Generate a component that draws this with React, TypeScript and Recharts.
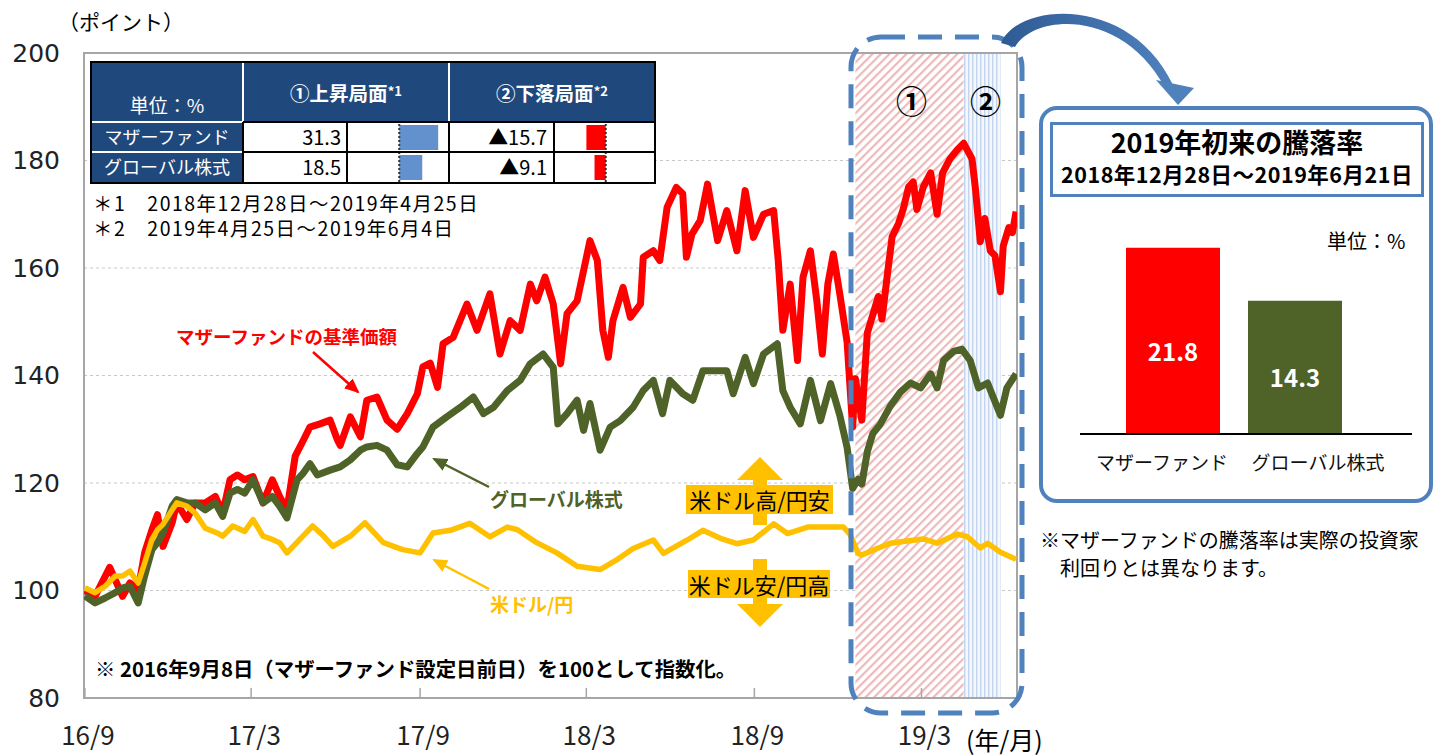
import React from "react";
import {
  LineChart,
  Line,
  XAxis,
  YAxis,
  CartesianGrid,
  ReferenceArea,
  ReferenceLine,
  BarChart,
  Bar,
  Cell,
  LabelList,
} from "recharts";

const JP = '"Noto Sans CJK JP", "Noto Sans", sans-serif';
const RED = "#ff0000";
const OLIVE = "#4f6228";
const GOLD = "#ffc000";
const NAVY = "#1f497d";
const BLUE = "#4f81bd";

// days elapsed since 2016-09-08 (= 100)
const fundDays = [
  1, 12, 28, 34, 42, 50, 59, 66, 74, 80, 86, 96, 101, 112, 121, 132, 143, 151, 159, 167,
  175, 184, 195, 205, 213, 221, 230, 239, 246, 257, 268, 276, 279, 290, 301, 308, 319, 330, 341, 352,
  363, 369, 377, 385, 391, 402, 417, 428, 442, 453, 464, 475, 486, 493, 502, 511, 519, 526, 537, 544,
  551, 559, 565, 571, 576, 587, 595, 606, 609, 620, 627, 635, 645, 652, 656, 662, 671, 679, 690, 700,
  711, 720, 729, 740, 751, 756, 761, 769, 777, 783, 791, 798, 804, 810, 816, 823, 831, 837, 840, 847,
  853, 859, 865, 869, 875, 880, 887, 892, 898, 903, 907, 914, 922, 929, 935, 943, 951, 958, 967, 971,
  976, 981, 987, 992, 998, 1001, 1007, 1011, 1015,
];
const fundValues = [
  100, 98.9, 104.3, 102, 98.9, 101.4, 100.2, 107, 111.3, 114.1, 108.2, 112.6, 116.3, 113.2, 116.3, 116.3, 117.5, 114.4, 120.6, 121.5,
  120.6, 121.2, 116.3, 120.6, 117.5, 115, 125, 128, 130.4, 131, 131.7, 128, 127, 132.3, 128.6, 135.4, 136, 131.7, 130, 132.9,
  136.6, 141.6, 142.3, 137.8, 145.9, 147.1, 153.3, 148.4, 155.2, 144, 150.2, 148.4, 157, 153.9, 158.3, 153.3, 142.2, 151.5, 153.9, 159.5,
  165.1, 161.4, 148.4, 143.4, 150.2, 156.4, 150.8, 153.3, 162, 163.2, 161.4, 171.3, 175, 173.8, 162, 166.3, 168.8, 175.6, 165.1, 170.7,
  163.2, 174.4, 165.7, 170, 170.7, 161.4, 148.4, 157, 142.8, 158.3, 163.2, 153.9, 144, 157, 162.6, 155.2, 146.2, 130.4, 139.4, 131.7,
  147.9, 151.3, 154.7, 150.5, 159, 165.8, 168.3, 170.9, 175.1, 176, 170.9, 175.1, 177.7, 170, 177.7, 180.3, 182, 183.2, 180.3, 174.3,
  164.9, 169.2, 163.2, 162.3, 155.6, 164.1, 167.5, 166.6, 170.5,
];

const globalDays = [
  1, 12, 23, 34, 42, 50, 59, 66, 74, 80, 86, 96, 101, 112, 121, 132, 143, 151, 159, 167,
  175, 184, 195, 205, 213, 221, 232, 239, 246, 254, 268, 279, 290, 301, 308, 319, 330, 341, 352, 363,
  369, 380, 395, 410, 424, 435, 446, 461, 475, 486, 500, 511, 516, 526, 537, 544, 551, 562, 573, 584,
  598, 609, 620, 630, 638, 652, 663, 674, 690, 700, 707, 720, 729, 740, 755, 761, 769, 780, 791, 802,
  813, 823, 831, 837, 843, 847, 853, 859, 867, 878, 889, 900, 911, 922, 929, 936, 947, 956, 965, 974,
  984, 990, 998, 1005, 1015,
];
const globalValues = [
  99, 97.7, 98.6, 99.6, 100.5, 100.8, 97.7, 102.7, 107.6, 108.9, 110.7, 115.7, 116.9, 116.3, 116.3, 115, 116.3, 113.8, 118.1, 118.8,
  118.1, 120.6, 116.3, 117.5, 115.7, 113.5, 120.6, 121.9, 123.6, 121.5, 122.4, 123, 124.3, 126.1, 126.7, 127, 126.1, 123.4, 123, 125.5,
  126.7, 130.4, 132.3, 134.1, 136, 132.9, 134.1, 137.2, 139.1, 142.2, 144, 141.5, 131, 132.9, 135.4, 129.8, 134.8, 126.1, 130.4, 131.6,
  134.1, 137.2, 139.1, 132.9, 139.1, 136.6, 135.4, 140.9, 140.9, 140.9, 136.6, 143.4, 138.5, 144, 145.9, 137.2, 134.1, 131, 139.1, 131.6,
  138.5, 132.6, 126.6, 119, 120.7, 119.8, 125.8, 129.2, 130.9, 134.3, 136.9, 138.6, 137.7, 140.3, 137.7, 142.8, 144.5, 144.9, 142.8, 137.7,
  138.6, 136, 132.6, 137.7, 140.3,
];

const usdDays = [
  1, 12, 23, 34, 42, 50, 59, 66, 74, 80, 86, 96, 101, 112, 121, 132, 145, 151, 162, 175,
  184, 195, 205, 213, 221, 235, 249, 260, 271, 290, 306, 326, 347, 366, 380, 399, 420, 442, 461, 472,
  493, 515, 537, 562, 581, 598, 620, 631, 657, 674, 693, 711, 729, 751, 766, 788, 809, 827, 834, 843,
  847, 859, 878, 896, 914, 929, 951, 962, 976, 984, 998, 1015,
];
const usdValues = [
  100.5, 99.6, 100.8, 102.7, 102.7, 103.6, 101.4, 105.1, 109.5, 111.3, 112.3, 115, 116.3, 115.7, 114.4, 111.6, 110.7, 110.1, 112, 111,
  113.2, 110.1, 109.5, 108.9, 107, 109.5, 112, 110.3, 108.2, 110.1, 112.6, 108.9, 107.6, 107, 110.7, 111.2, 112.5, 110, 111.8, 111.3,
  108.9, 107, 104.5, 103.9, 105.8, 107.8, 109.4, 106.9, 109.4, 111.2, 109.7, 108.7, 109.4, 112.4, 110.6, 111.8, 111.8, 111.8, 110.5, 106.9,
  106.6, 107.5, 108.8, 109.2, 109.6, 108.8, 110.5, 110, 107.9, 108.8, 107.1, 105.8,
];

const xTickDays = [1, 182, 366, 547, 730, 912];
const xTickLabels = ["16/9", "17/3", "17/9", "18/3", "18/9", "19/3"];
const yTicks = [80, 100, 120, 140, 160, 180, 200];

// ① rise phase, ② fall phase (days)
const phase1 = [840, 958];
const phase2 = [958, 998];

const tableRows = ["マザーファンド", "グローバル株式"];
const riseValues = [31.3, 18.5];
const fallValues = [-15.7, -9.1];
const footnotes = ["＊1　2018年12月28日～2019年4月25日", "＊2　2019年4月25日～2019年6月4日"];

const ytdNames = ["マザーファンド", "グローバル株式"];
const ytdValues = [21.8, 14.3];
const ytdColors = [RED, OLIVE];

const fundData = fundDays.map((d, i) => ({ day: d, v: fundValues[i] }));
const globalData = globalDays.map((d, i) => ({ day: d, v: globalValues[i] }));
const usdData = usdDays.map((d, i) => ({ day: d, v: usdValues[i] }));
const riseData = tableRows.map((n, i) => ({ name: n, value: riseValues[i] }));
const fallData = tableRows.map((n, i) => ({ name: n, value: fallValues[i] }));
const ytdData = ytdNames.map((n, i) => ({ name: n, value: ytdValues[i] }));

const PANEL_AXIS_MIN = -4.5;
const ytdLabelShift = [-11, 23];

function XTick(props: any) {
  const { x, y, payload } = props;
  const i = xTickDays.indexOf(payload.value);
  return (
    <g>
      <line x1={x} y1={y} x2={x} y2={y - 10} stroke="#a6a6a6" strokeWidth={1.5} />
      <text x={x + 3} y={y + 47} textAnchor="middle" fill="#222" fontSize={26} fontFamily={JP}>
        {xTickLabels[i]}
      </text>
    </g>
  );
}

function PanelTick(props: any) {
  const { x, y, payload, index } = props;
  return (
    <text x={x + ytdLabelShift[index]} y={y + 36} textAnchor="middle" fill="#111" fontSize={19} fontFamily={JP}>
      {payload.value}
    </text>
  );
}

const ytdLabel = (p: any) => {
  const { x, y, width, height, value } = p;
  return (
    <text x={x + width / 2} y={y + height / 2 + 20} textAnchor="middle" fill="#fff" fontSize={24} fontWeight={700} fontFamily={JP}>
      {value}
    </text>
  );
};

const box = (x: number, y: number, w: number, h: number, extra: React.CSSProperties = {}): React.CSSProperties => ({
  position: "absolute",
  left: x,
  top: y,
  width: w,
  height: h,
  boxSizing: "border-box",
  ...extra,
});

function Txt({ x, y, size, children, style }: any) {
  return (
    <div style={{ position: "absolute", left: x, top: y - size * 0.55, fontSize: size, lineHeight: 1.1, whiteSpace: "nowrap", fontFamily: JP, ...style }}>
      {children}
    </div>
  );
}

function CenterTxt({ x, y, w, h, size, children, style }: any) {
  return (
    <div style={box(x, y, w, h, { display: "flex", alignItems: "center", justifyContent: "center", fontSize: size, lineHeight: 1.1, fontFamily: JP, whiteSpace: "nowrap", ...style })}>
      {children}
    </div>
  );
}

function PhaseTable() {
  const wl = (x: number, y: number, w: number, h: number, c: string) => <div style={box(x, y, w, h, { background: c })} />;
  return (
    <>
      <div style={box(91, 62, 564, 120, { background: "#fff" })} />
      <div style={box(91, 62, 564, 60, { background: NAVY })} />
      <div style={box(91, 122, 152, 60, { background: NAVY })} />
      <div style={{ position: "absolute", left: 347, top: 122 }}>
        <BarChart width={102} height={60} layout="vertical" data={riseData} margin={{ top: 0, right: 0, bottom: 0, left: 0 }}>
          <XAxis type="number" hide domain={[-42, 40]} allowDataOverflow />
          <YAxis type="category" dataKey="name" hide />
          <Bar dataKey="value" fill="#6391cd" barSize={25} isAnimationActive={false} />
          <ReferenceLine x={0} stroke="#333" strokeWidth={2} strokeDasharray="2 2" />
        </BarChart>
      </div>
      <div style={{ position: "absolute", left: 554, top: 122 }}>
        <BarChart width={101} height={60} layout="vertical" data={fallData} margin={{ top: 0, right: 0, bottom: 0, left: 0 }}>
          <XAxis type="number" hide domain={[-42, 40]} allowDataOverflow />
          <YAxis type="category" dataKey="name" hide />
          <Bar dataKey="value" fill={RED} barSize={25} isAnimationActive={false} />
          <ReferenceLine x={0} stroke="#333" strokeWidth={2} strokeDasharray="2 2" />
        </BarChart>
      </div>
      {wl(242, 62, 2, 60, "#fff")}
      {wl(448, 62, 2, 60, "#fff")}
      {wl(91, 121, 152, 2, "#fff")}
      {wl(91, 151, 152, 2, "#fff")}
      {wl(243, 121, 412, 2, "#000")}
      {wl(243, 151, 412, 2, "#000")}
      {wl(242, 122, 2, 60, "#000")}
      {wl(346, 122, 2, 60, "#000")}
      {wl(448, 122, 2, 60, "#000")}
      {wl(553, 122, 2, 60, "#000")}
      <div style={box(90, 61, 566, 123, { border: "2.5px solid #000" })} />
      <CenterTxt x={91} y={88} w={152} h={34} size={19} style={{ color: "#fff" }}>単位：%</CenterTxt>
      <CenterTxt x={243} y={64} w={206} h={58} size={19.5} style={{ color: "#fff", fontWeight: 700 }}>
        ①上昇局面<sup style={{ fontSize: 13, position: "relative", top: -2 }}>*1</sup>
      </CenterTxt>
      <CenterTxt x={449} y={64} w={206} h={58} size={19.5} style={{ color: "#fff", fontWeight: 700 }}>
        ②下落局面<sup style={{ fontSize: 13, position: "relative", top: -2 }}>*2</sup>
      </CenterTxt>
      {tableRows.map((r, i) => (
        <React.Fragment key={r}>
          <CenterTxt x={91} y={122 + i * 30} w={152} h={30} size={18} style={{ color: "#fff" }}>{r}</CenterTxt>
          <CenterTxt x={243} y={122 + i * 30} w={98} h={30} size={20} style={{ justifyContent: "flex-end", color: "#000" }}>
            {riseValues[i].toFixed(1)}
          </CenterTxt>
          <CenterTxt x={449} y={122 + i * 30} w={98} h={30} size={20} style={{ justifyContent: "flex-end", color: "#000" }}>
            {"▲" + Math.abs(fallValues[i]).toFixed(1)}
          </CenterTxt>
        </React.Fragment>
      ))}
      <div style={{ position: "absolute", left: 93, top: 190, fontSize: 19.5, lineHeight: "25px", letterSpacing: 1.5, whiteSpace: "nowrap", fontFamily: JP }}>
        {footnotes[0]}
        <br />
        {footnotes[1]}
      </div>
    </>
  );
}

function Overlay() {
  return (
    <svg width={1435} height={756} style={{ position: "absolute", left: 0, top: 0, pointerEvents: "none" }}>
      <defs>
        {[["arRed", RED], ["arOlive", OLIVE], ["arGold", GOLD]].map(([id, c]) => (
          <marker key={id} id={id} markerUnits="userSpaceOnUse" markerWidth={15} markerHeight={13} refX={13} refY={6.5} orient="auto">
            <path d="M0,0 L15,6.5 L0,13 z" fill={c} />
          </marker>
        ))}
        <linearGradient id="curveGrad" x1="0" y1="0" x2="1" y2="0">
          <stop offset="0" stopColor="#2f5b94" />
          <stop offset="1" stopColor="#4f81bd" />
        </linearGradient>
      </defs>
      <rect x={851} y={37} width={171} height={676} rx={30} fill="none" stroke={BLUE} strokeWidth={5} strokeDasharray="24 13" />
      <path d="M1001,43 C1018,2 1130,-6 1173,85 L1165,88 C1122,8 1034,14 1015,47 Z" fill="url(#curveGrad)" />
      <polygon points="1156,80 1194,88 1178,105" fill={BLUE} />
      <line x1={313} y1={352} x2={358} y2={392} stroke={RED} strokeWidth={2.5} markerEnd="url(#arRed)" />
      <line x1={489} y1={487} x2={434} y2={459} stroke={OLIVE} strokeWidth={2.5} markerEnd="url(#arOlive)" />
      <line x1={489} y1={589} x2={434} y2={560} stroke={GOLD} strokeWidth={2.5} markerEnd="url(#arGold)" />
      <polygon points="760,457 783,480 767,480 767,525 753,525 753,480 737,480" fill={GOLD} />
      <polygon points="760,627 783,604 767,604 767,559 753,559 753,604 737,604" fill={GOLD} />
    </svg>
  );
}

export default function App() {
  return (
    <div style={{ position: "absolute", left: 0, top: 0, width: 1435, height: 756, background: "#fff", overflow: "hidden", fontFamily: JP }}>
      <svg width={0} height={0} style={{ position: "absolute" }}>
        <defs>
          <pattern id="hatchRed" patternUnits="userSpaceOnUse" width={6} height={6} patternTransform="rotate(45)">
            <rect width={6} height={6} fill="#fff" />
            <rect width={2.2} height={6} fill="#eeb9b9" />
          </pattern>
          <pattern id="hatchBlue" patternUnits="userSpaceOnUse" width={4} height={4}>
            <rect width={4} height={4} fill="#f4f8fd" />
            <rect width={1.4} height={4} fill="#c3d5ee" />
          </pattern>
        </defs>
      </svg>

      <div style={{ position: "absolute", left: 0, top: 0 }}>
        <LineChart width={1030} height={756} margin={{ top: 53, right: 13, bottom: 0, left: 0 }}>
          <CartesianGrid vertical={false} stroke="#c8c8c8" strokeDasharray="3 3" />
          <ReferenceArea x1={phase1[0]} x2={phase1[1]} fill="url(#hatchRed)" fillOpacity={1} stroke="none" />
          <ReferenceArea x1={phase2[0]} x2={phase2[1]} fill="url(#hatchBlue)" fillOpacity={1} stroke="none" />
          <XAxis
            type="number"
            dataKey="day"
            domain={[0, 1016]}
            ticks={xTickDays}
            interval={0}
            height={58}
            axisLine={false}
            tickLine={false}
            tickSize={0}
            tickMargin={0}
            tick={<XTick />}
            allowDataOverflow
          />
          <YAxis
            type="number"
            domain={[80, 200]}
            ticks={yTicks}
            interval={0}
            width={84}
            axisLine={false}
            tickLine={false}
            tickSize={20}
            tickMargin={4}
            tick={{ fill: "#222", fontSize: 25, fontFamily: "DejaVu Sans" }}
          />
          <Line data={fundData} dataKey="v" stroke={RED} strokeWidth={7} dot={false} strokeLinejoin="round" isAnimationActive={false} />
          <Line data={globalData} dataKey="v" stroke={OLIVE} strokeWidth={7} dot={false} strokeLinejoin="round" isAnimationActive={false} />
          <Line data={usdData} dataKey="v" stroke={GOLD} strokeWidth={5.5} dot={false} strokeLinejoin="round" isAnimationActive={false} />
          <ReferenceArea x1={0} x2={1016} y1={80} y2={200} fill="none" stroke="#a6a6a6" strokeWidth={2} />
        </LineChart>
      </div>

      <Overlay />
      <PhaseTable />

      <Txt x={58} y={22} size={21}>（ポイント）</Txt>
      <Txt x={966} y={740} size={25}>(年/月)</Txt>
      <Txt x={176} y={336} size={18.5} style={{ color: RED, fontWeight: 700 }}>マザーファンドの基準価額</Txt>
      <Txt x={490} y={499} size={19} style={{ color: OLIVE, fontWeight: 700 }}>グローバル株式</Txt>
      <Txt x={490} y={604} size={19} style={{ color: GOLD, fontWeight: 700 }}>米ドル/円</Txt>
      <CenterTxt x={686} y={485} w={147} h={29} size={22} style={{ background: GOLD, color: "#000" }}>米ドル高/円安</CenterTxt>
      <CenterTxt x={688} y={570} w={142} h={28} size={22} style={{ background: GOLD, color: "#000" }}>米ドル安/円高</CenterTxt>
      <Txt x={95} y={668} size={20.4} style={{ fontWeight: 700 }}>※ 2016年9月8日（マザーファンド設定日前日）を100として指数化。</Txt>
      <Txt x={896} y={100} size={31} style={{ fontWeight: 700 }}>①</Txt>
      <Txt x={970} y={100} size={31} style={{ fontWeight: 700 }}>②</Txt>

      {/* right panel */}
      <div style={box(1039, 106, 394, 397, { border: `4px solid ${BLUE}`, borderRadius: 18, background: "#fff" })} />
      <div style={box(1050, 122, 374, 75, { border: `3.5px solid ${BLUE}`, background: "#fff" })} />
      <CenterTxt x={1050} y={127} w={374} h={30} size={27} style={{ fontWeight: 700 }}>2019年初来の騰落率</CenterTxt>
      <CenterTxt x={1050} y={161} w={374} h={25} size={21.5} style={{ fontWeight: 700, letterSpacing: 0.5 }}>2018年12月28日～2019年6月21日</CenterTxt>
      <Txt x={1327} y={241} size={20}>単位：%</Txt>
      <div style={{ position: "absolute", left: 1080, top: 218 }}>
        <BarChart width={332} height={261} data={ytdData} margin={{ top: 0, right: 0, bottom: 0, left: 0 }}>
          <XAxis
            dataKey="name"
            height={45}
            padding={{ left: 32, right: 56 }}
            axisLine={{ stroke: "#000", strokeWidth: 2 }}
            tickLine={false}
            tickSize={0}
            tickMargin={0}
            interval={0}
            tick={<PanelTick />}
          />
          <YAxis hide type="number" domain={[PANEL_AXIS_MIN, 26]} allowDataOverflow />
          <Bar dataKey={(d: any) => [PANEL_AXIS_MIN, d.value]} barSize={94} isAnimationActive={false}>
            {ytdData.map((d, i) => (
              <Cell key={d.name} fill={ytdColors[i]} />
            ))}
            <LabelList dataKey="value" content={ytdLabel} />
          </Bar>
        </BarChart>
      </div>
      <Txt x={1040} y={540} size={20}>※マザーファンドの騰落率は実際の投資家</Txt>
      <Txt x={1040} y={568} size={20}>　利回りとは異なります。</Txt>
    </div>
  );
}
